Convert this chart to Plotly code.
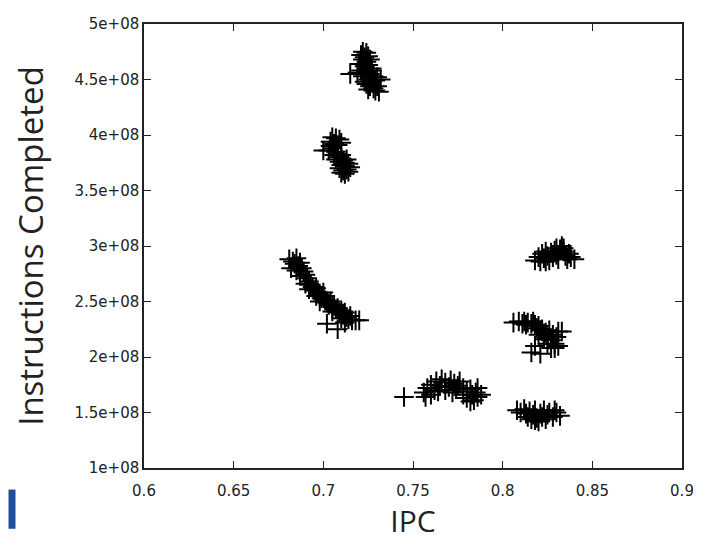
import plotly.graph_objects as go

# IPC vs instructions completed, one list pair per cluster (y in units of 1e8)
ipc_a = [0.722, 0.724, 0.721, 0.723, 0.725, 0.722, 0.724, 0.726, 0.720, 0.723, 0.725, 0.727, 0.721, 0.724,
         0.726, 0.715, 0.719, 0.722, 0.728, 0.730, 0.725, 0.727, 0.729, 0.732, 0.724, 0.726, 0.728, 0.730,
         0.729, 0.731, 0.725, 0.723, 0.727]
ins_a = [4.75, 4.74, 4.72, 4.70, 4.71, 4.68, 4.66, 4.68, 4.64, 4.62, 4.63, 4.60, 4.58, 4.57,
         4.55, 4.55, 4.56, 4.53, 4.53, 4.52, 4.50, 4.48, 4.49, 4.50, 4.46, 4.44, 4.42, 4.44,
         4.40, 4.39, 4.41, 4.48, 4.58]

ipc_b = [0.705, 0.707, 0.709, 0.704, 0.706, 0.708, 0.710, 0.700, 0.703, 0.705, 0.707, 0.706, 0.708, 0.710,
         0.707, 0.709, 0.711, 0.713, 0.710, 0.712, 0.714, 0.709, 0.711, 0.713, 0.710, 0.712, 0.714, 0.715,
         0.704, 0.712]
ins_b = [3.98, 3.97, 3.96, 3.94, 3.92, 3.91, 3.93, 3.86, 3.86, 3.88, 3.85, 3.82, 3.80, 3.82,
         3.78, 3.76, 3.77, 3.78, 3.73, 3.72, 3.74, 3.70, 3.68, 3.69, 3.66, 3.65, 3.67, 3.71,
         3.90, 3.75]

ipc_c = [0.681, 0.683, 0.685, 0.684, 0.686, 0.682, 0.687, 0.688, 0.685, 0.689, 0.690, 0.687, 0.691, 0.692,
         0.690, 0.693, 0.694, 0.692, 0.695, 0.697, 0.696, 0.698, 0.699, 0.700, 0.698, 0.701, 0.702, 0.703,
         0.704, 0.705, 0.706, 0.707, 0.705, 0.708, 0.709, 0.710, 0.711, 0.712, 0.713, 0.710, 0.714, 0.715,
         0.716, 0.718, 0.720, 0.702, 0.708, 0.712, 0.696, 0.700]
ins_c = [2.88, 2.86, 2.89, 2.84, 2.82, 2.80, 2.85, 2.80, 2.78, 2.77, 2.74, 2.73, 2.71, 2.68,
         2.66, 2.65, 2.63, 2.61, 2.60, 2.58, 2.55, 2.56, 2.53, 2.55, 2.50, 2.51, 2.49, 2.47,
         2.50, 2.45, 2.47, 2.43, 2.41, 2.44, 2.40, 2.42, 2.38, 2.40, 2.36, 2.35, 2.34, 2.37,
         2.33, 2.33, 2.33, 2.30, 2.25, 2.31, 2.62, 2.58]

ipc_d = [0.745, 0.756, 0.758, 0.760, 0.762, 0.760, 0.763, 0.765, 0.766, 0.768, 0.770, 0.768, 0.771, 0.773,
         0.774, 0.772, 0.775, 0.776, 0.778, 0.778, 0.780, 0.780, 0.782, 0.783, 0.784, 0.785, 0.786, 0.788,
         0.782, 0.786, 0.764, 0.757]
ins_d = [1.64, 1.68, 1.72, 1.75, 1.70, 1.66, 1.78, 1.74, 1.80, 1.77, 1.73, 1.70, 1.79, 1.76,
         1.71, 1.68, 1.74, 1.78, 1.72, 1.66, 1.69, 1.63, 1.71, 1.66, 1.61, 1.68, 1.64, 1.66,
         1.60, 1.72, 1.69, 1.64]

ipc_e = [0.818, 0.820, 0.821, 0.822, 0.823, 0.824, 0.825, 0.826, 0.827, 0.828, 0.829, 0.830, 0.831, 0.832,
         0.833, 0.834, 0.835, 0.836, 0.837, 0.838, 0.840, 0.824, 0.830, 0.834]
ins_e = [2.87, 2.90, 2.86, 2.93, 2.89, 2.95, 2.91, 2.87, 2.94, 2.90, 2.96, 2.92, 2.88, 2.97,
         3.00, 2.95, 2.91, 2.88, 2.93, 2.90, 2.88, 2.86, 2.98, 2.98]

ipc_f = [0.806, 0.809, 0.811, 0.812, 0.814, 0.816, 0.817, 0.818, 0.819, 0.820, 0.821, 0.822, 0.823, 0.824,
         0.825, 0.826, 0.827, 0.828, 0.829, 0.830, 0.831, 0.833, 0.820, 0.818, 0.816, 0.821, 0.825, 0.827,
         0.829, 0.831, 0.823, 0.813]
ins_f = [2.31, 2.32, 2.30, 2.32, 2.31, 2.30, 2.32, 2.29, 2.26, 2.28, 2.24, 2.25, 2.21, 2.22,
         2.18, 2.24, 2.15, 2.20, 2.12, 2.18, 2.23, 2.23, 2.20, 2.10, 2.04, 2.03, 2.12, 2.08,
         2.08, 2.10, 2.16, 2.29]

ipc_g = [0.808, 0.810, 0.812, 0.813, 0.814, 0.815, 0.816, 0.817, 0.818, 0.819, 0.820, 0.821, 0.822, 0.823,
         0.824, 0.825, 0.826, 0.828, 0.830, 0.832, 0.829, 0.818]
ins_g = [1.52, 1.50, 1.53, 1.49, 1.46, 1.51, 1.44, 1.48, 1.52, 1.45, 1.42, 1.49, 1.46, 1.52,
         1.44, 1.48, 1.50, 1.46, 1.50, 1.47, 1.52, 1.43]

x_ticks = [0.6, 0.65, 0.7, 0.75, 0.8, 0.85, 0.9]
x_labels = ["0.6", "0.65", "0.7", "0.75", "0.8", "0.85", "0.9"]
y_ticks = [1e8, 1.5e8, 2e8, 2.5e8, 3e8, 3.5e8, 4e8, 4.5e8, 5e8]
y_labels = ["1e+08", "1.5e+08", "2e+08", "2.5e+08", "3e+08", "3.5e+08", "4e+08", "4.5e+08", "5e+08"]

ipc = ipc_a + ipc_b + ipc_c + ipc_d + ipc_e + ipc_f + ipc_g
instr = [v * 1e8 for v in ins_a + ins_b + ins_c + ins_d + ins_e + ins_f + ins_g]

fig = go.Figure()
fig.add_trace(go.Scatter(
    x=ipc, y=instr, mode="markers",
    marker=dict(symbol="cross-thin", size=14, color="black",
                line=dict(color="black", width=2)),
    showlegend=False,
))

axis_common = dict(
    showline=True, linecolor="#222", linewidth=1.5, mirror="ticks",
    ticks="inside", ticklen=7, tickwidth=1.2, tickcolor="#222",
    showgrid=False, zeroline=False,
    tickfont=dict(family="DejaVu Sans", size=15, color="#222"),
)

fig.update_xaxes(range=[0.6, 0.9], tickvals=x_ticks, ticktext=x_labels, ticklabelstandoff=8,
                 title=dict(text="IPC", font=dict(family="Open Sans", size=30, color="#222"), standoff=6),
                 **axis_common)
fig.update_yaxes(range=[1e8, 5e8], tickvals=y_ticks, ticktext=y_labels,
                 title=dict(text="Instructions Completed", font=dict(family="Open Sans", size=33, color="#222"),
                            standoff=24),
                 **axis_common)

# cut-off logo fragment at the bottom left
fig.add_shape(type="rect", xref="paper", yref="paper", x0=-136 / 540, x1=-129 / 540,
              y0=-62 / 453, y1=-22 / 453, fillcolor="#1f4e9a", line_width=0)

# page body adds an 8px margin, so the figure is a bit smaller than the window
fig.update_layout(
    width=693, height=534,
    margin=dict(l=136, r=17, t=7, b=74),
    plot_bgcolor="white", paper_bgcolor="white",
)

fig.write_html("out.html")
